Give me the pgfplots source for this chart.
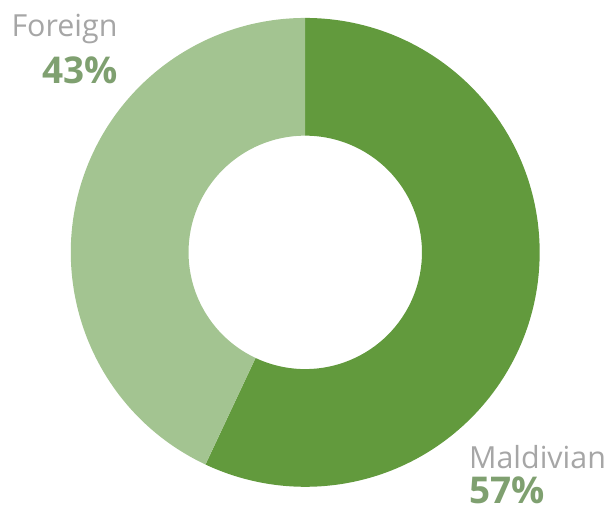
\documentclass[border=0pt]{standalone}
\usepackage{pgfplots}
\pgfplotsset{compat=1.18}
\usepackage{pgfplotstable}
\usepackage{fontspec}
\setmainfont{Open Sans}
\definecolor{darkg}{HTML}{629A3D}
\definecolor{lightg}{HTML}{A3C491}
\definecolor{labgray}{HTML}{A6A6A6}
\definecolor{pctg}{HTML}{7FA070}
\pgfplotstableread{
label value
Maldivian 57
Foreign 43
}\shares
\begin{document}
\begin{tikzpicture}
\pgfplotstablegetelem{0}{value}\of\shares \let\valA\pgfplotsretval
\pgfplotstablegetelem{1}{value}\of\shares \let\valB\pgfplotsretval
\pgfmathsetmacro{\endA}{90-\valA/(\valA+\valB)*360}
\begin{axis}[
  width=606pt, height=511pt, scale only axis,
  xmin=0, xmax=606, ymin=0, ymax=511,
  hide axis, clip=false,
]
\path (axis cs:0,0) rectangle (axis cs:606,511);
\coordinate (c) at (axis cs:306,258);
% dark wedge (Maldivian): clockwise from top
\fill[darkg] ([shift={(90:235)}]c) arc[start angle=90, end angle=\endA, radius=235]
  -- ([shift={(\endA:117)}]c) arc[start angle=\endA, end angle=90, radius=117] -- cycle;
% light wedge (Foreign)
\fill[lightg] ([shift={(\endA:235)}]c) arc[start angle=\endA, end angle=-270, radius=235]
  -- ([shift={(90:117)}]c) arc[start angle=90, end angle=\endA+360, radius=117] -- cycle;
\node[anchor=base east, text=labgray, font=\fontsize{30.5}{36}\selectfont, inner sep=0pt] at (axis cs:118,474) {Foreign};
\node[anchor=base east, text=pctg, font=\fontsize{37}{44}\selectfont\bfseries, inner sep=0pt] at (axis cs:118,427) {43\%};
\node[anchor=base west, text=labgray, font=\fontsize{30.5}{36}\selectfont, inner sep=0pt] at (axis cs:470,41) {Maldivian};
\node[anchor=base west, text=pctg, font=\fontsize{37}{44}\selectfont\bfseries, inner sep=0pt] at (axis cs:470,6) {57\%};
\end{axis}
\end{tikzpicture}
\end{document}
